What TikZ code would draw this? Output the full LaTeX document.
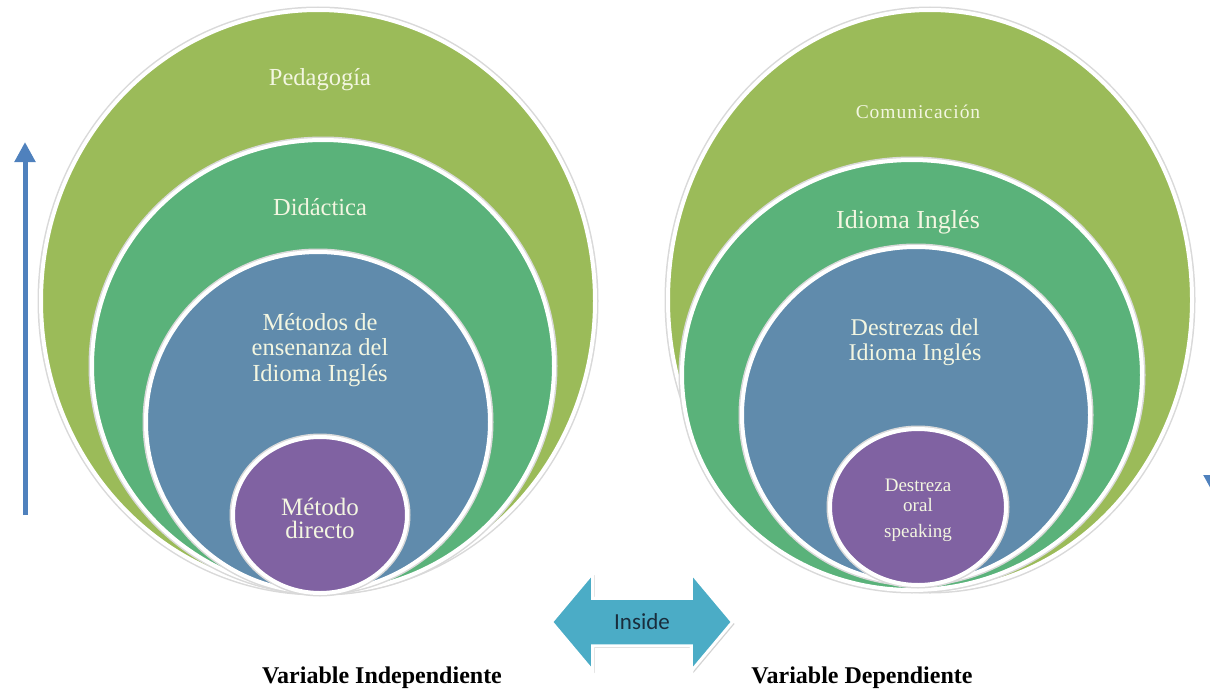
\documentclass[tikz,border=0pt]{standalone}
\usepackage{fontspec}
\setmainfont{Liberation Serif}
\newfontfamily\spacedserif[LetterSpace=5]{Liberation Serif}
\newfontfamily\calibfont{Carlito}
\usetikzlibrary{arrows.meta,shapes.arrows,shadows}
\definecolor{lime}{RGB}{155,187,89}
\definecolor{leaf}{RGB}{90,178,122}
\definecolor{steel}{RGB}{96,139,172}
\definecolor{plum}{RGB}{128,98,162}
\definecolor{sky}{RGB}{75,172,198}
\definecolor{cream}{RGB}{243,246,225}
\definecolor{navy}{RGB}{25,45,60}
\definecolor{arrowblue}{RGB}{79,129,189}

\begin{document}
\begin{tikzpicture}[x=1pt,y=-1pt]
\tikzstyle{every node}+=[inner sep=0pt, align=center]
\tikzstyle{halo}=[draw=black!15, line width=7pt]
\tikzstyle{ring}=[fill=#1, draw=white, line width=4pt]
\tikzstyle{ringtext}=[text=cream, font=\fontsize{24.5}{25.5}\selectfont]
\tikzstyle{updown}=[arrowblue, line width=5pt, -{Triangle[length=20pt,width=20pt]}]
\useasboundingbox (0,0) rectangle (1210,693);
% left side
\draw [halo] (318,301) ellipse (277 and 291);
\draw [ring=lime] (318,301) ellipse (277 and 291);
\draw [halo] (323,366) ellipse (231 and 226);
\draw [ring=leaf] (323,366) ellipse (231 and 226);
\draw [halo] (318,422) ellipse (172 and 170);
\draw [ring=steel] (318,422) ellipse (172 and 170);
\draw [halo] (320,515) ellipse (87 and 78);
\draw [ring=plum] (320,515) ellipse (87 and 78);
\draw (320,80) node [ringtext] (pedagogia) {Pedagogía};
\draw (320,207) node [ringtext] (didactica) {Didáctica};
\draw (320,350) node [ringtext] (metodos) {Métodos de\\ensenanza del\\Idioma Inglés};
\draw (320,518) node [ringtext, font=\fontsize{25}{23}\selectfont] (directo) {Método\\directo};
% right side
\draw [halo] (930,300) ellipse (262 and 290);
\draw [ring=lime] (930,300) ellipse (262 and 290);
\draw [halo] (912,375) ellipse (230 and 215);
\draw [ring=leaf] (912,375) ellipse (230 and 215);
\draw [halo] (916,415) ellipse (174 and 168);
\draw [ring=steel] (916,415) ellipse (174 and 168);
\draw [halo] (918,507) ellipse (88 and 78);
\draw [ring=plum] (918,507) ellipse (88 and 78);
\draw (918,112) node [ringtext, font=\spacedserif\fontsize{19.5}{20}\selectfont] (comunicacion) {Comunicación};
\draw (908,222) node [ringtext, font=\fontsize{26}{26}\selectfont] (idioma) {Idioma Inglés};
\draw (915,342) node [ringtext, font=\fontsize{24}{25}\selectfont] (destrezas) {Destrezas del\\Idioma Inglés};
\draw (918,510) node [ringtext, font=\fontsize{19}{20}\selectfont] (oral) {Destreza\\oral\\[6pt]speaking};
% arrows
\coordinate (leftfoot) at (25,515);
\coordinate (lefttop) at (25,142);
\draw [updown] (leftfoot) -- (lefttop);
\coordinate (rightstart) at (1214,140);
\coordinate (rightend) at (1214,495);
\draw [updown] (rightstart) -- (rightend);
\draw (642,622) node [double arrow, fill=sky, draw=white, line width=3pt,
  inner xsep=0pt, inner ysep=13pt,
  minimum height=181, minimum width=98, double arrow head extend=24,
  double arrow tip angle=100, text=navy, font=\calibfont\fontsize{23}{23}\selectfont,
  drop shadow={opacity=0.35, shadow xshift=2pt, shadow yshift=-2pt}] (inside) {Inside};
\draw (382,678) node [font=\bfseries\fontsize{24}{25}\selectfont] (indep) {Variable Independiente};
\draw (862,678) node [font=\bfseries\fontsize{24}{25}\selectfont] (dep) {Variable Dependiente};
\end{tikzpicture}
\end{document}
